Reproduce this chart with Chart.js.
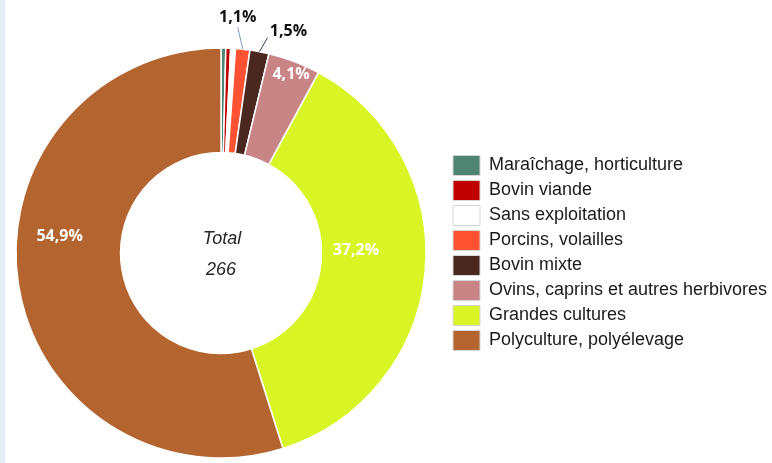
<!DOCTYPE html>
<html lang="fr">
<head>
<meta charset="utf-8">
<title>Orientation des exploitations</title>
<script src="https://cdn.jsdelivr.net/npm/chart.js@4.4.1/dist/chart.umd.min.js"></script>
<style>
  html, body { margin: 0; padding: 0; background: #fff; }
  #wrap { position: relative; width: 772px; height: 463px; overflow: hidden; }
  #strip { position: absolute; left: 0; top: 0; width: 5px; height: 463px; background: #e6ecf5; z-index: 2; }
  canvas { position: absolute; left: -6px; top: 0; }
</style>
</head>
<body>
<div id="wrap">
  <div id="strip"></div>
  <canvas id="pie" width="778" height="463"></canvas>
</div>
<script>
// DATA : NUMBER OF FARMS BY TYPE (TOTAL 266)
const categories = [
  'Maraîchage, horticulture',
  'Bovin viande',
  'Sans exploitation',
  'Porcins, volailles',
  'Bovin mixte',
  'Ovins, caprins et autres herbivores',
  'Grandes cultures',
  'Polyculture, polyélevage'
];
const counts = [1, 1, 1, 3, 4, 11, 99, 146];
const centerTitle = 'Total';

// ONE COLOUR PER CATEGORY
const sliceColors = ['#4f8372', '#c00000', '#ffffff', '#ff5233', '#4a2820', '#c98586', '#d9f526', '#b4652f'];

const total = counts.reduce((a, b) => a + b, 0);

// PERCENT LABELS ON / BESIDE THE SLICES
const sliceLabels = {
  id: 'sliceLabels',
  afterDatasetsDraw(chart, args, opts) {
    const ctx = chart.ctx;
    const meta = chart.getDatasetMeta(0);
    meta.data.forEach((arc, i) => {
      const place = opts.placement[i];
      if (!place) return;
      const p = arc.getProps(['x', 'y', 'startAngle', 'endAngle', 'innerRadius', 'outerRadius'], true);
      const mid = (p.startAngle + p.endAngle) / 2;
      const text = (counts[i] / total * 100).toFixed(1).replace('.', ',') + '%';
      ctx.save();
      ctx.font = opts.font;
      ctx.textAlign = 'center';
      ctx.textBaseline = 'middle';
      if (place.outside) {
        const ox = p.x + Math.cos(mid) * p.outerRadius;
        const oy = p.y + Math.sin(mid) * p.outerRadius;
        const tx = ox + place.dx;
        const ty = oy + place.dy;
        ctx.strokeStyle = place.line;
        ctx.lineWidth = 1;
        ctx.beginPath();
        ctx.moveTo(ox, oy);
        ctx.lineTo(tx + place.lx, ty + place.ly);
        ctx.stroke();
        ctx.fillStyle = opts.outsideColor;
        ctx.fillText(text, tx, ty);
      } else {
        const a = mid + place.shift * Math.PI / 180;
        const r = p.innerRadius + place.r * (p.outerRadius - p.innerRadius);
        ctx.fillStyle = opts.insideColor;
        ctx.fillText(text, p.x + Math.cos(a) * r, p.y + Math.sin(a) * r);
      }
      ctx.restore();
    });
  }
};

// "TOTAL 266" IN THE HOLE
const centerText = {
  id: 'centerText',
  afterDraw(chart, args, opts) {
    const arc = chart.getDatasetMeta(0).data[0];
    if (!arc) return;
    const ctx = chart.ctx;
    ctx.save();
    ctx.font = opts.font;
    ctx.fillStyle = opts.color;
    ctx.textAlign = 'center';
    ctx.textBaseline = 'middle';
    ctx.fillText(centerTitle, arc.x + 1, arc.y - 14);
    ctx.fillText(String(total), arc.x, arc.y + 17);
    ctx.restore();
  }
};

const baseLabels = Chart.overrides.doughnut.plugins.legend.labels.generateLabels;

new Chart(document.getElementById('pie'), {
  type: 'doughnut',
  data: {
    labels: categories,
    datasets: [{
      data: counts,
      backgroundColor: sliceColors,
      borderColor: '#ffffff',
      borderWidth: 1.5
    }]
  },
  options: {
    responsive: false,
    devicePixelRatio: 1,
    animation: false,
    radius: 205,
    cutout: '49%',
    layout: { padding: { left: 0, top: 43, right: 0, bottom: 0 } },
    plugins: {
      tooltip: { enabled: false },
      legend: {
        position: 'right',
        align: 'center',
        maxWidth: 324,
        labels: {
          boxWidth: 27,
          boxHeight: 20,
          padding: 5,
          color: '#1a1a1a',
          font: { family: '"Liberation Sans", Arial, sans-serif', size: 18 },
          generateLabels(chart) {
            return baseLabels(chart).map(l => Object.assign(l, { strokeStyle: '#d6d6d6', lineWidth: 1 }));
          }
        }
      },
      sliceLabels: {
        font: 'bold 16px "Open Sans", sans-serif',
        insideColor: '#ffffff',
        outsideColor: '#111111',
        placement: {
          3: { outside: true, dx: -5, dy: -32, lx: 0, ly: 10, line: '#7f9cc4' },
          4: { outside: true, dx: 29, dy: -20, lx: -21, ly: 6, line: '#33415e' },
          5: { shift: 0.5, r: 0.87 },
          6: { shift: -6.3, r: 0.33 },
          7: { shift: 14.5, r: 0.59 }
        }
      },
      centerText: {
        font: 'italic 18px "Liberation Sans", Arial, sans-serif',
        color: '#262626'
      }
    }
  },
  plugins: [sliceLabels, centerText]
});
</script>
</body>
</html>
